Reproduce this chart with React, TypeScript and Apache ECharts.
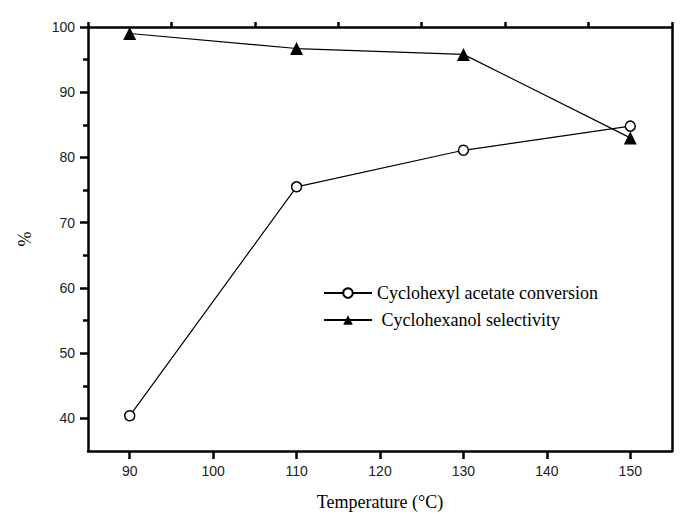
import React, { useEffect, useRef } from "react";
import * as echarts from "echarts";

const temperatures = [90, 110, 130, 150];
const conversion = [40.4, 75.5, 81.1, 84.8];
const selectivity = [99.0, 96.7, 95.8, 83.0];

const App: React.FC = () => {
  const chartRef = useRef<HTMLDivElement>(null);

  useEffect(() => {
    const dom = chartRef.current;
    if (!dom) return;
    const chart = echarts.init(dom, undefined, { renderer: "svg" });

    const axisLine = { show: true, lineStyle: { color: "#000", width: 2.5 } };
    const tickStyle = { color: "#000", width: 2.5 };
    const labelStyle = { color: "#222", fontFamily: "Liberation Sans", fontSize: 14 };

    const option: echarts.EChartsOption = {
      animation: false,
      grid: { left: 74, right: 16, top: 19, bottom: 71 },
      legend: {
        orient: "vertical",
        left: 310,
        top: 271,
        itemWidth: 48,
        itemHeight: 12,
        itemGap: 9,
        textStyle: { fontFamily: "Liberation Serif", fontSize: 18, color: "#000" },
        data: ["Cyclohexyl acetate conversion", " Cyclohexanol selectivity"],
      },
      xAxis: [
        {
          type: "value",
          min: 85,
          max: 155,
          interval: 5,
          name: "Temperature (°C)",
          nameLocation: "middle",
          nameGap: 42,
          nameTextStyle: { fontFamily: "Liberation Serif", fontSize: 18, color: "#000" },
          axisLine,
          axisTick: { show: true, length: 8, lineStyle: tickStyle, customValues: [90, 100, 110, 120, 130, 140, 150] },
          axisLabel: { ...labelStyle, margin: 13, customValues: [90, 100, 110, 120, 130, 140, 150] },
          splitLine: { show: false },
        },
        {
          type: "value",
          min: 85,
          max: 155,
          axisLine: { show: false },
          axisTick: { show: true, length: 5, lineStyle: tickStyle, customValues: [85, 95, 105, 115, 125, 135, 145, 155] },
          axisLabel: { show: false },
          splitLine: { show: false },
        },
        {
          type: "value",
          position: "top",
          min: 85,
          max: 155,
          axisLine,
          axisTick: { show: false },
          axisLabel: { show: false },
          splitLine: { show: false },
        },
      ],
      yAxis: [
        {
          type: "value",
          min: 35,
          max: 100,
          name: "%",
          nameLocation: "middle",
          nameGap: 54,
          nameTextStyle: { fontFamily: "Liberation Serif", fontSize: 18, color: "#000" },
          axisLine,
          axisTick: { show: true, length: 8, lineStyle: tickStyle, customValues: [40, 50, 60, 70, 80, 90, 100] },
          axisLabel: { ...labelStyle, margin: 13, customValues: [40, 50, 60, 70, 80, 90, 100] },
          splitLine: { show: false },
        },
        {
          type: "value",
          position: "left",
          min: 35,
          max: 100,
          axisLine: { show: false },
          axisTick: { show: true, length: 5, lineStyle: tickStyle, customValues: [45, 55, 65, 75, 85, 95] },
          axisLabel: { show: false },
          splitLine: { show: false },
        },
        {
          type: "value",
          position: "right",
          min: 35,
          max: 100,
          axisLine,
          axisTick: { show: false },
          axisLabel: { show: false },
          splitLine: { show: false },
        },
      ],
      series: [
        {
          name: "Cyclohexyl acetate conversion",
          type: "line",
          data: temperatures.map((t, i) => [t, conversion[i]]),
          symbol: "circle",
          symbolSize: 10,
          itemStyle: { color: "#fff", borderColor: "#000", borderWidth: 1.5 },
          lineStyle: { color: "#000", width: 1.2 },
        },
        {
          name: " Cyclohexanol selectivity",
          type: "line",
          data: temperatures.map((t, i) => [t, selectivity[i]]),
          symbol: "triangle",
          symbolSize: 13,
          itemStyle: { color: "#000" },
          lineStyle: { color: "#000", width: 1.2 },
        },
      ],
    };

    chart.setOption(option);
    return () => {
      chart.dispose();
    };
  }, []);

  return <div ref={chartRef} style={{ width: 680, height: 514 }} />;
};

export default App;
